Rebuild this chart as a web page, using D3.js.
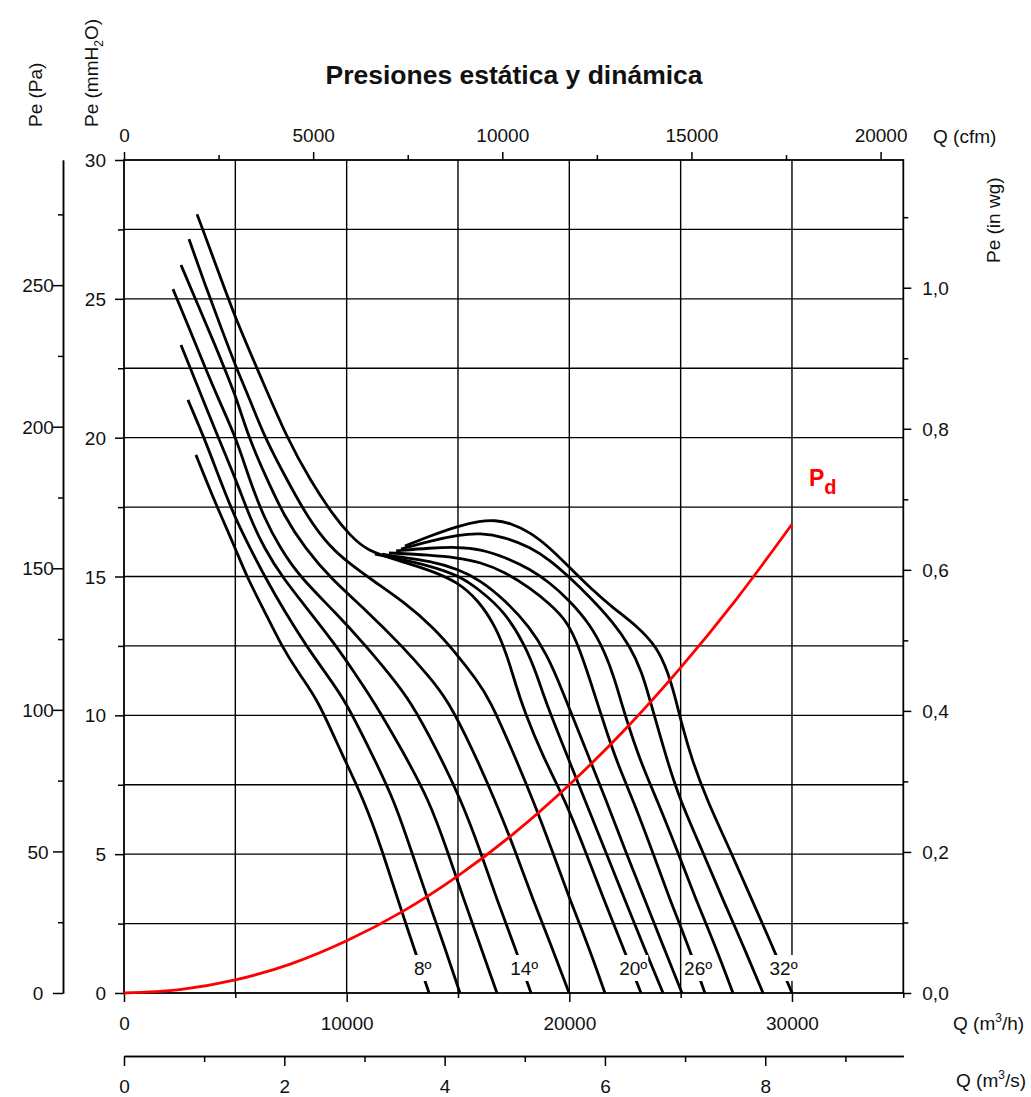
<!DOCTYPE html>
<html>
<head>
<meta charset="utf-8">
<script src="https://cdn.jsdelivr.net/npm/d3@7"></script>
<style>
  body { margin: 0; background: #fff; }
  svg text { font-family: "Liberation Sans", Arial, Helvetica, sans-serif; }
</style>
</head>
<body>
<svg id="chart" width="1031" height="1097"></svg>
<script>
// Fan curves: [flow m³/h, static pressure mmH2O] for each blade angle
const curve8  = [[3230,19.38],[3860,18.12],[4400,17.11],[4990,16.03],[5520,14.98],[6330,13.72],[7100,12.46],[7900,11.45],[8710,10.55],[9700,8.75],[10780,6.95],[11590,5.15],[12300,3.35],[12980,1.73],[13700,0]];
const curve10 = [[2870,21.36],[3640,19.92],[4310,18.48],[4990,17.11],[5660,16.03],[6330,14.98],[7230,13.72],[8220,12.46],[9120,11.45],[9920,10.55],[11050,8.75],[12130,6.95],[12890,5.15],[13650,3.35],[14370,1.73],[15090,0]];
const curve12 = [[2560,23.34],[3370,21.72],[4090,20.28],[5030,18.48],[5660,17.11],[6290,16.03],[7100,14.98],[8350,13.72],[9570,12.46],[10420,11.45],[11180,10.55],[12490,8.75],[13700,6.95],[14510,5.15],[15270,3.35],[15990,1.73],[16750,0]];
const curve14 = [[2200,25.35],[2960,23.88],[3680,22.44],[4360,21.18],[5030,19.99],[5610,18.55],[6290,17.11],[7010,16.03],[7900,14.98],[9480,13.72],[10910,12.46],[11950,11.45],[12840,10.55],[14060,8.75],[15140,6.95],[15990,5.15],[16750,3.35],[17520,1.73],[18280,0]];
const curve16 = [[2560,26.22],[3320,24.78],[4090,23.34],[4720,22.08],[5030,21.46],[5610,19.99],[6330,18.66],[7230,17.11],[8130,16.03],[9250,14.95],[10960,13.72],[12530,12.46],[13650,11.45],[14550,10.55],[15670,8.75],[16660,6.95],[17560,5.15],[18370,3.35],[19180,1.73],[19990,0]];
const curve18 = [[2920,27.15],[3640,25.50],[4400,23.88],[5030,22.54],[5660,21.36],[6330,19.99],[7320,18.48],[8260,17.11],[9250,16.06],[10150,15.45],[11270,14.80],[12620,14.05],[13880,13.18],[14870,12.28],[15850,11.27],[16440,10.55],[17430,8.75],[18370,6.95],[19220,5.15],[20030,3.35],[20840,1.73],[21600,0]];
const curve20 = [[3280,28.05],[4130,26.22],[5030,24.24],[6200,22.08],[7320,19.99],[8350,18.48],[9480,17.11],[10150,16.49],[10910,15.92],[12400,15.56],[13740,15.23],[15000,14.80],[15900,14.15],[16660,13.25],[17200,12.17],[17600,11.09],[17960,10.19],[18820,8.50],[19810,6.95],[20700,5.15],[21560,3.35],[22370,1.73],[23220,0]];
const curve22 = [[11270,15.81],[12400,15.63],[13740,15.38],[15000,15.05],[15990,14.51],[17110,13.72],[18010,12.53],[18550,11.45],[18910,10.55],[19800,8.75],[20700,6.95],[21600,5.15],[22500,3.35],[23400,1.55],[24210,0]];
const curve24 = [[11590,15.81],[12400,15.70],[13740,15.56],[15000,15.27],[15990,14.87],[17110,14.15],[18230,13.18],[19000,12.17],[19490,11.27],[19850,10.55],[20750,8.75],[21650,6.95],[22500,5.15],[23400,3.35],[24250,1.62],[25060,0]];
const curve26 = [[11900,15.85],[13740,15.77],[15000,15.67],[15990,15.52],[17110,15.16],[18230,14.59],[19130,14.01],[19940,13.36],[20480,12.35],[20930,11.27],[21290,10.37],[21650,9.47],[22190,8.21],[22860,6.95],[23710,5.15],[24520,3.35],[25330,1.73],[26090,0]];
const curve28 = [[12220,15.92],[13740,16.03],[15000,16.06],[15990,15.99],[17110,15.70],[18230,15.27],[19130,14.77],[19940,14.19],[20930,13.29],[21600,12.28],[22050,11.27],[22370,10.37],[22720,9.47],[23260,8.21],[23940,6.95],[24840,5.15],[25690,3.35],[26540,1.73],[27350,0]];
const curve30 = [[12440,15.99],[13740,16.28],[15000,16.49],[15990,16.57],[17110,16.42],[18230,16.06],[19130,15.59],[19940,15.02],[20930,14.26],[21960,13.36],[22720,12.50],[23260,11.56],[23620,10.55],[23940,9.65],[24390,8.39],[24970,6.95],[25960,5.15],[26900,3.35],[27800,1.73],[28700,0]];
const curve32 = [[12620,16.10],[13740,16.46],[15000,16.82],[15990,17.00],[16660,17.03],[17340,16.93],[18230,16.60],[19130,16.03],[19940,15.38],[20930,14.59],[21960,13.87],[23040,13.22],[23940,12.46],[24430,11.56],[24790,10.55],[25060,9.65],[25510,8.39],[26180,6.95],[27220,5.15],[28200,3.35],[29100,1.73],[30000,0]];

const bladeAngles = [8, 10, 12, 14, 16, 18, 20, 22, 24, 26, 28, 30, 32];
const labelledAngles = [8, 14, 20, 26, 32];

// Dynamic pressure curve
const pdFlow     = [0, 2500, 5000, 7500, 10000, 12500, 15000, 17500, 20000, 22500, 25000, 27500, 30000];
const pdPressure = [0, 0.12, 0.47, 1.05, 1.88, 2.93, 4.22, 5.74, 7.50, 9.49, 11.72, 14.18, 16.88];

// Tick values for each axis
const ticksM3h      = [0, 10000, 20000, 30000];
const minorM3h      = [5000, 15000, 25000, 35000];
const ticksM3s      = [0, 2, 4, 6, 8];
const minorM3s      = [1, 3, 5, 7, 9];
const ticksCfm      = [0, 5000, 10000, 15000, 20000];
const minorCfm      = [2500, 7500, 12500, 17500];
const ticksMm       = [0, 5, 10, 15, 20, 25, 30];
const minorMm       = [2.5, 7.5, 12.5, 17.5, 22.5, 27.5];
const ticksPa       = [0, 50, 100, 150, 200, 250];
const minorPa       = [25, 75, 125, 175, 225, 275];
const ticksInwg     = [0, 0.2, 0.4, 0.6, 0.8, 1.0];
const minorInwg     = [0.1, 0.3, 0.5, 0.7, 0.9, 1.1];
const gridFlow      = [5000, 10000, 15000, 20000, 25000, 30000];
const gridPressure  = [2.5, 5, 7.5, 10, 12.5, 15, 17.5, 20, 22.5, 25, 27.5];

const curves = [curve8, curve10, curve12, curve14, curve16, curve18, curve20,
                curve22, curve24, curve26, curve28, curve30, curve32];

// Unit conversions
const CFM_TO_M3H = 1.69901, PA_PER_MM = 9.80665, MM_PER_INWG = 25.4, S_PER_H = 3600;

const qMax = 35000, pMax = 30;
const plotL = 124, plotR = 903.3, plotT = 160, plotB = 993;

const x = d3.scaleLinear().domain([0, qMax]).range([plotL, plotR]);
const y = d3.scaleLinear().domain([0, pMax]).range([plotB, plotT]);
const xCfm = d3.scaleLinear().domain([0, qMax / CFM_TO_M3H]).range([plotL, plotR]);
const xSec = d3.scaleLinear().domain([0, qMax / S_PER_H]).range([plotL, plotR]);
const yPa = d3.scaleLinear().domain([0, pMax * PA_PER_MM]).range([plotB, plotT]);
const yIn = d3.scaleLinear().domain([0, pMax / MM_PER_INWG]).range([plotB, plotT]);

const svg = d3.select("#chart");
const FONT = '"Liberation Sans", Arial, Helvetica, sans-serif';
const INK = "#111";

// Grid
const grid = svg.append("g").attr("stroke", "#000").attr("stroke-width", 1.4);
grid.selectAll("line.gh").data(gridPressure).join("line").attr("class", "gh")
  .attr("x1", x(0)).attr("x2", x(qMax)).attr("y1", d => y(d)).attr("y2", d => y(d));
grid.selectAll("line.gv").data(gridFlow).join("line").attr("class", "gv")
  .attr("x1", d => x(d)).attr("x2", d => x(d)).attr("y1", y(0)).attr("y2", y(pMax));

// Axis helper
function drawAxis(gen, tf, values, size, labels, opts = {}) {
  const a = gen.tickValues(values).tickSize(size).tickSizeOuter(0);
  if (!labels) a.tickFormat(() => "");
  else if (opts.format) a.tickFormat(opts.format);
  const g = svg.append("g").attr("transform", tf).call(a);
  g.attr("font-size", 19).attr("font-family", FONT);
  g.selectAll("line").attr("stroke", "#000").attr("stroke-width", 1.5);
  g.selectAll("path").attr("stroke", "#000").attr("stroke-width", 1.5);
  if (opts.noDomain) g.select("path.domain").remove();
  g.selectAll("text").attr("fill", INK);
  return g;
}

const commaFmt = d3.formatLocale({ decimal: ",", thousands: ".", grouping: [3], currency: ["", ""] }).format(".1f");

// Top: cfm
drawAxis(d3.axisTop(xCfm), `translate(0,${plotT})`, minorCfm, 5, false, { noDomain: true });
drawAxis(d3.axisTop(xCfm), `translate(0,${plotT})`, ticksCfm, 8, true, { noDomain: true, format: d3.format("d") })
  .selectAll("text").attr("y", -18).attr("dy", null);

// Bottom: m³/h
drawAxis(d3.axisBottom(x), `translate(0,${plotB})`, minorM3h, 5, false, { noDomain: true });
drawAxis(d3.axisBottom(x), `translate(0,${plotB})`, ticksM3h, 9, true, { noDomain: true, format: d3.format("d") })
  .selectAll("text").attr("y", 37).attr("dy", null);

// Bottom: m³/s
drawAxis(d3.axisBottom(xSec), `translate(0,1056)`, minorM3s, 6, false);
drawAxis(d3.axisBottom(xSec), `translate(0,1056)`, ticksM3s, 10, true, { format: d3.format("d") })
  .selectAll("text").attr("y", 37).attr("dy", null);

// Left: mmH2O
drawAxis(d3.axisLeft(y), `translate(${plotL},0)`, minorMm, 6, false, { noDomain: true });
drawAxis(d3.axisLeft(y), `translate(${plotL},0)`, ticksMm, 9, true, { noDomain: true })
  .selectAll("text").attr("x", -18).attr("dy", "0.35em");

// Left: Pa
drawAxis(d3.axisLeft(yPa), `translate(63,0)`, minorPa, 5, false);
drawAxis(d3.axisLeft(yPa), `translate(63,0)`, ticksPa, 10, true)
  .selectAll("text").attr("x", -25).attr("text-anchor", "middle").attr("dy", "0.35em");

// Right: in wg
drawAxis(d3.axisRight(yIn), `translate(${plotR},0)`, minorInwg, 5, false, { noDomain: true });
drawAxis(d3.axisRight(yIn), `translate(${plotR},0)`, ticksInwg, 8, true, { noDomain: true, format: commaFmt })
  .selectAll("text").attr("x", 19).attr("dy", "0.35em");

// Plot frame
svg.append("rect")
  .attr("x", x(0)).attr("y", y(pMax))
  .attr("width", x(qMax) - x(0)).attr("height", y(0) - y(pMax))
  .attr("fill", "none").attr("stroke", "#000").attr("stroke-width", 1.8);

// Fan curves
const fanLine = d3.line().x(d => x(d[0])).y(d => y(d[1])).curve(d3.curveBasis);
svg.append("g").selectAll("path").data(curves).join("path")
  .attr("d", fanLine)
  .attr("fill", "none").attr("stroke", "#000").attr("stroke-width", 2.8)
  .attr("stroke-linejoin", "round");

// Angle labels with white backing at the foot of the curves
const labelP = 0.9;
const lab = svg.append("g");
labelledAngles.forEach(a => {
  const pts = curves[bladeAngles.indexOf(a)];
  const [qa, pa] = pts[pts.length - 2], [qb, pb] = pts[pts.length - 1];
  const q = qb + (qa - qb) * (labelP - pb) / (pa - pb);
  const cx = x(q) + 2, cy = y(labelP);
  const t = lab.append("text")
    .attr("x", cx).attr("y", cy + 6.5)
    .attr("text-anchor", "middle")
    .attr("font-size", 19).attr("fill", INK)
    .text(a + "º");
  const w = t.node().getComputedTextLength();
  lab.insert("rect", "text")
    .attr("x", cx - w / 2 - 1).attr("y", cy - 13)
    .attr("width", w + 2).attr("height", 26)
    .attr("fill", "#fff");
});

// Dynamic pressure
const pdLine = d3.line().x((d, i) => x(pdFlow[i])).y(d => y(d)).curve(d3.curveMonotoneX);
svg.append("path").datum(pdPressure)
  .attr("d", pdLine)
  .attr("fill", "none").attr("stroke", "#ff0000").attr("stroke-width", 2.8);

const pdLabel = svg.append("text")
  .attr("x", x(30760)).attr("y", y(18.25))
  .attr("font-size", 23).attr("font-weight", "bold").attr("fill", "#ff0000");
pdLabel.append("tspan").text("P");
pdLabel.append("tspan").attr("font-size", 20).attr("dy", 8).text("d");

// Title
svg.append("text")
  .attr("x", 514).attr("y", 84)
  .attr("text-anchor", "middle")
  .attr("font-size", 26.5).attr("font-weight", "bold").attr("fill", INK)
  .text("Presiones estática y dinámica");

// Axis titles
function unitTitle(xp, yp, parts, anchor = "start") {
  const t = svg.append("text").attr("x", xp).attr("y", yp)
    .attr("font-size", 19).attr("fill", INK).attr("text-anchor", anchor);
  parts.forEach(p => {
    const s = t.append("tspan").text(p.t);
    if (p.sup) s.attr("font-size", 12).attr("dy", -8);
    if (p.sub) s.attr("font-size", 12).attr("dy", 5);
    if (p.back) s.attr("dy", p.back);
  });
  return t;
}

unitTitle(933, 143, [{ t: "Q (cfm)" }]);
unitTitle(953, 1030, [{ t: "Q (m" }, { t: "3", sup: true }, { t: "/h)", back: 8 }]);
unitTitle(956, 1087, [{ t: "Q (m" }, { t: "3", sup: true }, { t: "/s)", back: 8 }]);

unitTitle(0, 0, [{ t: "Pe (Pa)" }]).attr("transform", "translate(42,127) rotate(-90)");
unitTitle(0, 0, [{ t: "Pe (mmH" }, { t: "2", sub: true }, { t: "O)", back: -5 }])
  .attr("transform", "translate(98,127) rotate(-90)");
unitTitle(0, 0, [{ t: "Pe (in wg)" }]).attr("transform", "translate(1000,263) rotate(-90)");
</script>
</body>
</html>
